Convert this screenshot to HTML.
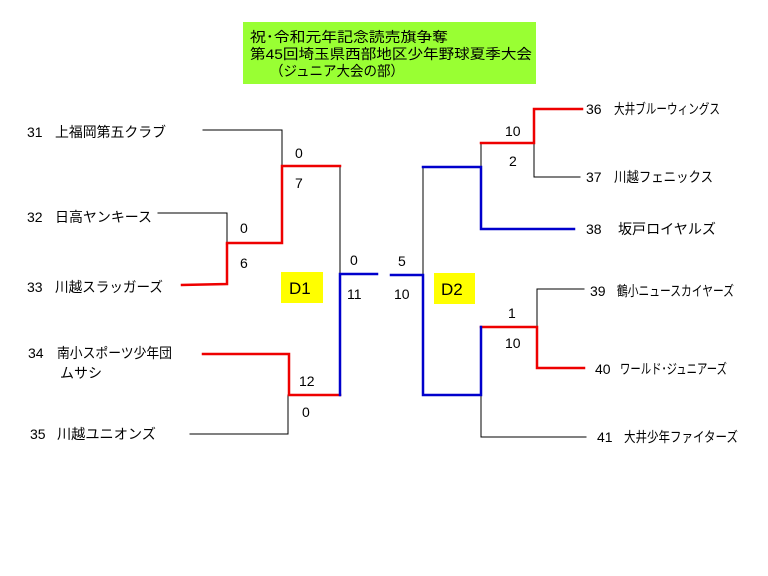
<!DOCTYPE html>
<html><head><meta charset="utf-8"><style>
html,body{margin:0;padding:0;background:#fff;width:768px;height:576px;overflow:hidden}
svg text{font-family:"Liberation Sans","Noto Sans CJK JP",sans-serif;font-size:13px;fill:#000}
.n{font-size:14px}
</style></head><body>
<svg width="768" height="576" viewBox="0 0 768 576" xmlns="http://www.w3.org/2000/svg">
<rect x="243" y="22" width="293" height="62" fill="#99ff33"/>
<text x="250" y="42" style="font-size:14px" textLength="198" lengthAdjust="spacingAndGlyphs">祝･令和元年記念読売旗争奪</text>
<text x="250" y="59" style="font-size:14px" textLength="282" lengthAdjust="spacingAndGlyphs">第45回埼玉県西部地区少年野球夏季大会</text>
<text x="270" y="76" style="font-size:14px" textLength="134" lengthAdjust="spacingAndGlyphs">（ジュニア大会の部）</text>

<g fill="none" stroke-linecap="square">
<path d="M203 130H282V166" stroke="#000" stroke-width="1"/>
<path d="M158 213H227V243" stroke="#000" stroke-width="1"/>
<path d="M340 166V274" stroke="#000" stroke-width="1"/>
<path d="M190 434H288V395" stroke="#000" stroke-width="1"/>
<path d="M340 166H282V243H227" stroke="#e00" stroke-width="2.5"/>
<path d="M227 245V284L182 285" stroke="#e00" stroke-width="2.5"/>
<path d="M203 354H289V395H340" stroke="#e00" stroke-width="2.5"/>
<path d="M377 274H340V395" stroke="#00c" stroke-width="2.5"/>
<path d="M534 143V177H580" stroke="#000" stroke-width="1"/>
<path d="M481 143V167" stroke="#000" stroke-width="1"/>
<path d="M423 167V275" stroke="#000" stroke-width="1"/>
<path d="M537 327V289H584" stroke="#000" stroke-width="1"/>
<path d="M481 395V437H586" stroke="#000" stroke-width="1"/>
<path d="M582 109H534V143H481" stroke="#e00" stroke-width="2.5"/>
<path d="M481 327H537V368H584" stroke="#e00" stroke-width="2.5"/>
<path d="M423 167H481V229H574" stroke="#00c" stroke-width="2.5"/>
<path d="M391 275H423V395H481V327" stroke="#00c" stroke-width="2.5"/>
</g>

<rect x="281" y="272" width="42" height="31" fill="#ffff00"/>
<text x="289" y="294" style="font-size:17px">D1</text>
<rect x="434" y="273" width="41" height="31" fill="#ffff00"/>
<text x="441" y="295" style="font-size:17px">D2</text>

<!-- left labels -->
<text class="n" x="27" y="137">31</text><text class="n" x="55" y="137" textLength="111" lengthAdjust="spacingAndGlyphs">上福岡第五クラブ</text>
<text class="n" x="27" y="222">32</text><text class="n" x="55" y="222" textLength="97" lengthAdjust="spacingAndGlyphs">日高ヤンキース</text>
<text class="n" x="27" y="292">33</text><text class="n" x="55" y="292" textLength="108" lengthAdjust="spacingAndGlyphs">川越スラッガーズ</text>
<text class="n" x="28" y="358">34</text><text class="n" x="57" y="358" textLength="115" lengthAdjust="spacingAndGlyphs">南小スポーツ少年団</text>
<text class="n" x="60" y="378" textLength="42" lengthAdjust="spacingAndGlyphs">ムサシ</text>
<text class="n" x="30" y="439">35</text><text class="n" x="57" y="439" textLength="99" lengthAdjust="spacingAndGlyphs">川越ユニオンズ</text>

<text class="n" x="295" y="158">0</text>
<text class="n" x="295" y="188">7</text>
<text class="n" x="240" y="233">0</text>
<text class="n" x="240" y="268">6</text>
<text class="n" x="350" y="265">0</text>
<text class="n" x="347" y="299">11</text>
<text class="n" x="299" y="386">12</text>
<text class="n" x="302" y="417">0</text>

<text class="n" x="505" y="136">10</text>
<text class="n" x="509" y="166">2</text>
<text class="n" x="398" y="266">5</text>
<text class="n" x="394" y="299">10</text>
<text class="n" x="508" y="318">1</text>
<text class="n" x="505" y="348">10</text>

<!-- right labels -->
<text class="n" x="586" y="114">36</text><text class="n" x="614" y="114" textLength="106" lengthAdjust="spacingAndGlyphs">大井ブルーウィングス</text>
<text class="n" x="586" y="182">37</text><text class="n" x="614" y="182" textLength="99" lengthAdjust="spacingAndGlyphs">川越フェニックス</text>
<text class="n" x="586" y="234">38</text><text class="n" x="618" y="234" textLength="98" lengthAdjust="spacingAndGlyphs">坂戸ロイヤルズ</text>
<text class="n" x="590" y="296">39</text><text class="n" x="617" y="296" textLength="117" lengthAdjust="spacingAndGlyphs">鶴小ニュースカイヤーズ</text>
<text class="n" x="595" y="374">40</text><text class="n" x="620" y="374" textLength="107" lengthAdjust="spacingAndGlyphs">ワールド･ジュニアーズ</text>
<text class="n" x="597" y="442">41</text><text class="n" x="624" y="442" textLength="114" lengthAdjust="spacingAndGlyphs">大井少年ファイターズ</text>
</svg>
</body></html>
